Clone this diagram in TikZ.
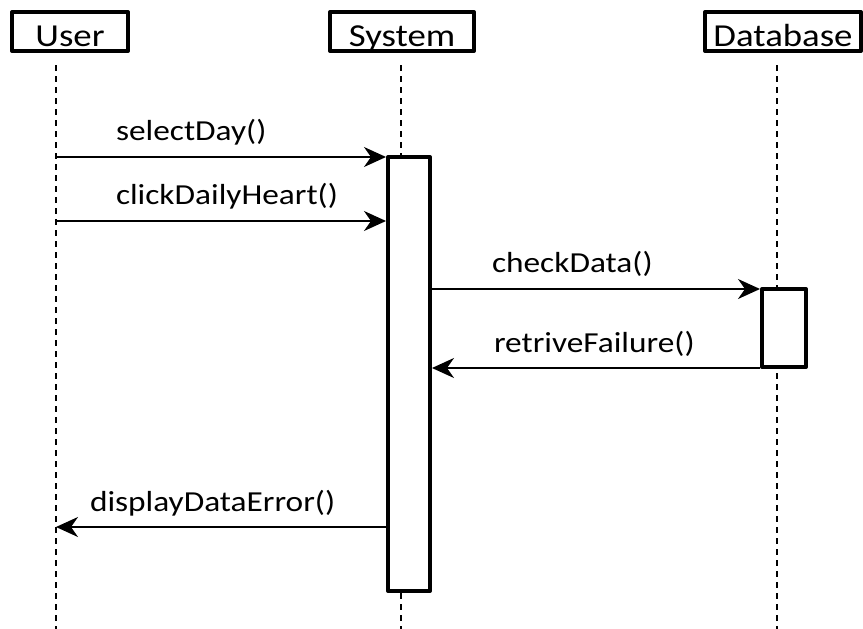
\documentclass[tikz,border=0pt]{standalone}
\usepackage{fontspec}
\setmainfont[FakeStretch=1.15]{Carlito}
\usetikzlibrary{arrows.meta,positioning}

\begin{document}
\begin{tikzpicture}[x=1pt,y=-1pt,
	actor/.style={draw,line width=4pt,line join=round,minimum height=39pt,
		text height=30pt,text depth=0pt,inner ysep=4.5pt,font=\fontsize{32}{38}\selectfont},
	life/.style={line width=1.5pt,dash pattern=on 6pt off 5pt},
	activation/.style={draw,fill=white,line width=4pt,line join=round},
	msg/.style={line width=2pt,-{Stealth[length=22pt,width=20pt,inset=7pt]}},
	lbl/.style={anchor=base west,inner sep=0pt,font=\fontsize{29}{34}\selectfont}]
	\useasboundingbox (0,0) rectangle (863,629);
	% actors
	\node[actor,minimum width=116pt] (user) at (70,31.5) {User};
	\node[actor,minimum width=144pt] (system) at (402,31.5) {System};
	\node[actor,minimum width=156pt] (db) at (783,31.5) {Database};
	% lifelines
	\coordinate (user_top) at (56,65);
	\coordinate (user_bot) at (56,629);
	\coordinate (system_top) at (401,65);
	\coordinate (system_bot) at (401,629);
	\coordinate (db_top) at (777,65);
	\coordinate (db_bot) at (777,629);
	\draw[life] (user_top) -- (user_bot);
	\draw[life] (system_top) -- (system_bot);
	\draw[life] (db_top) -- (db_bot);
	% activations
	\node[activation,minimum width=42pt,minimum height=434pt] (act_s) at (409,374) {};
	\node[activation,minimum width=44pt,minimum height=78pt] (act_d) at (784,328) {};
	% messages
	\coordinate (m_1) at (56,157);
	\coordinate (m_2) at (56,221);
	\coordinate (m_3) at (432,289);
	\coordinate (m_4) at (432,368);
	\coordinate (m_5) at (56,527);
	\path[msg]
		(m_1) edge node[lbl,at start,xshift=59pt,yshift=17pt] {selectDay()} (act_s.west |- m_1)
		(m_2) edge node[lbl,at start,xshift=59pt,yshift=17pt] {clickDailyHeart()} (act_s.west |- m_2)
		(act_s.east |- m_3) edge node[lbl,at start,xshift=59pt,yshift=17pt] {checkData()} (act_d.west |- m_3)
		(act_d.west |- m_4) edge node[lbl,at end,xshift=61pt,yshift=16pt] {retriveFailure()} (act_s.east |- m_4)
		(act_s.west |- m_5) edge node[lbl,at end,xshift=33pt,yshift=16pt] {displayDataError()} (m_5);
\end{tikzpicture}
\end{document}
